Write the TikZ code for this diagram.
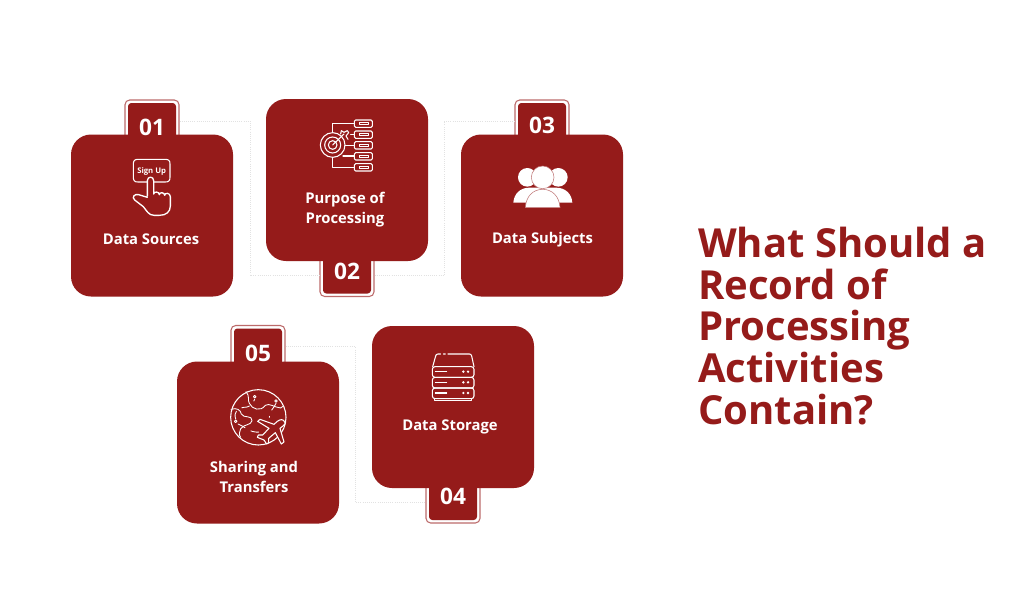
\documentclass[tikz,border=0pt]{standalone}
\usepackage{fontspec}
\setmainfont{Open Sans}
\definecolor{brick}{HTML}{951B1A}
\definecolor{tabline}{HTML}{BC6A6A}
\definecolor{linklight}{HTML}{E2E2E2}
\tikzset{
  iconzoom/.style 2 args={shift={(#1,#2)},x=.25pt,y=-.25pt},
  cardbox/.style={fill=brick,draw=none,rounded corners=15pt,minimum width=121.5pt,minimum height=121.5pt,inner sep=0pt},
  tabouter/.style={draw=tabline,line width=.8pt,fill=white,rounded corners=3.5pt,minimum width=40.5pt,minimum height=31.5pt,inner sep=0pt},
  tabinner/.style={fill=brick,draw=none,rounded corners=2.5pt,minimum width=36pt,minimum height=27pt,inner sep=0pt},
  numtext/.style={text=white,font=\fontsize{17}{18}\selectfont\bfseries,inner sep=0pt},
  cardtext/.style={text=white,font=\fontsize{11.1}{15.4}\selectfont\bfseries,align=center,inner sep=0pt},
  titletext/.style={text=brick,font=\fontsize{30}{31.2}\selectfont\bfseries,align=left,anchor=north west,inner sep=0pt},
  link/.style={draw=linklight,line width=.6pt,densely dotted},
  ico/.style={draw=white,line width=.8pt,line join=round,line cap=round},
}
\begin{document}
\begin{tikzpicture}[x=.75pt,y=-.75pt]
\useasboundingbox[fill=white] (0,0) rectangle (1024,614);

% tabs
\node[tabouter] (tab1) at (152,121) {};
\node[tabouter] (tab2) at (347,275.5) {};
\node[tabouter] (tab3) at (542,121) {};
\node[tabouter] (tab4) at (453,502) {};
\node[tabouter] (tab5) at (258,346.5) {};
\node[tabinner] at (152,121) {};
\node[tabinner] at (347,275.5) {};
\node[tabinner] at (542,121) {};
\node[tabinner] at (453,502) {};
\node[tabinner] at (258,346.5) {};

% connectors
\coordinate (b12) at (250,200);
\coordinate (b23) at (444,200);
\coordinate (b54) at (355,420);
\draw[link] (tab1.east) -| (b12) |- (tab2.west);
\draw[link] (tab2.east) -| (b23) |- (tab3.west);
\draw[link] (tab5.east) -| (b54) |- (tab4.west);

% cards
\node[cardbox] (card1) at (152,215.5) {};
\node[cardbox] (card2) at (347,180) {};
\node[cardbox] (card3) at (542,215.5) {};
\node[cardbox] (card4) at (453,407) {};
\node[cardbox] (card5) at (258,442.5) {};

% numbers
\node[numtext] (n1) at (152,127) {01};
\node[numtext] (n2) at (347,271) {02};
\node[numtext] (n3) at (542,125.5) {03};
\node[numtext] (n4) at (453,496) {04};
\node[numtext] (n5) at (258,353) {05};

% labels
\node[cardtext] (l1) at (151,239) {Data Sources};
\node[cardtext] (l2) at (345,209.5) {Purpose of\\Processing};
\node[cardtext] (l3) at (542.5,239.5) {Data Subjects};
\node[cardtext] (l4) at (450,426.5) {Data Storage};
\node[cardtext] (l5) at (254,477) {Sharing and\\Transfers};

% title
\node[titletext] (title) at (698,227) {What Should a\\Record of\\Processing\\Activities\\Contain?};

% icon 1: sign up
\begin{scope}[iconzoom={60}{90}]
  \draw[ico] (262,276) -- (234,276) .. controls (224,276) and (220,272) .. (220,262) -- (220,222) .. controls (220,212) and (224,208) .. (234,208) -- (316,208) .. controls (326,208) and (330,212) .. (330,222) -- (330,262) .. controls (330,272) and (326,276) .. (316,276) -- (282,276);
  \node[text=white,font=\fontsize{5.8}{7}\selectfont\bfseries,inner sep=0pt] (signup) at (275,243) {Sign Up};
  \draw[ico,line width=1pt] (262,318) -- (262,272) .. controls (262,258) and (281,258) .. (281,272) -- (281,312)
    (281,312) .. controls (281,304) and (298,304) .. (298,314)
    (298,314) .. controls (298,306) and (314,306) .. (314,316)
    (314,316) .. controls (314,307) and (331,308) .. (331,320) -- (331,348) .. controls (331,366) and (318,376) .. (298,376) -- (282,376) .. controls (266,376) and (260,362) .. (250,350) -- (224,330) .. controls (214,322) and (224,310) .. (236,314) -- (262,322);
\end{scope}

% icon 2: target
\begin{scope}[iconzoom={260}{90}]
  \draw[ico] (218,128) -- (218,100) -- (283,100) (218,202) -- (218,232) -- (283,232)
    (272,133) -- (283,133) (255,166) -- (283,166) (249,198) -- (283,198);
  \foreach \yy in {90,123,155,188,221}{
    \draw[ico,rounded corners=1pt] (283,\yy) rectangle (337,\yy+22);
    \draw[ico,line width=.6pt] (298,\yy+8) rectangle (325,\yy+14);
  }
  \draw[ico] (218,165) circle[radius=37];
  \draw[ico] (218,165) circle[radius=24];
  \draw[ico] (218,165) circle[radius=13];
  \draw[ico] (218,165) -- (252,132);
  \draw[ico] (242,132) -- (244,122) -- (252,127) -- (262,122) -- (266,128) -- (258,138) -- (264,148);
\end{scope}

% icon 3: people
\begin{scope}[iconzoom={450}{90}]
  \fill[white] (232,262) circle[radius=28];
  \fill[white] (325,262) circle[radius=28];
  \fill[white] (190,338) .. controls (192,310) and (212,293) .. (238,293) -- (318,293) .. controls (345,293) and (365,310) .. (367,338) -- cycle;
  \fill[white,draw=brick!60!white,line width=.4pt] (278,262) circle[radius=34];
  \fill[white,draw=brick!60!white,line width=.4pt] (226,353) .. controls (228,318) and (250,298) .. (278,298) .. controls (306,298) and (328,318) .. (330,353) -- cycle;
\end{scope}

% icon 4: server
\begin{scope}[iconzoom={350}{320}]
  \draw[ico] (248,140) -- (257,108) .. controls (258,104) and (260,102) .. (264,102) -- (272,102);
  \draw[ico] (280,102) -- (286,102) (294,102) -- (358,102) .. controls (362,102) and (364,104) .. (365,108) -- (372,140);
  \foreach \yy in {140,172,204}{
    \draw[ico,rounded corners=2pt] (247,\yy) rectangle (372,\yy+32);
    \draw[ico] (256,\yy+15) -- (290,\yy+15);
    \fill[white] (340,\yy+15) circle[radius=4] (354,\yy+15) circle[radius=4];
  }
  \draw[ico] (254,236) -- (254,242) -- (364,242) -- (364,236);
\end{scope}

% icon 5: globe and plane
\begin{scope}[iconzoom={170}{320}]
  \draw[ico] (265,292) circle[radius=83];
  \draw[ico,line width=.65pt] (228,215) .. controls (240,228) and (232,240) .. (238,250) .. controls (246,268) and (272,276) .. (286,256) .. controls (298,248) and (312,262) .. (332,264) -- (340,258);
  \draw[ico,line width=.65pt] (183,268) .. controls (200,262) and (212,270) .. (214,282) .. controls (220,296) and (248,284) .. (246,302) .. controls (244,316) and (222,312) .. (212,326) .. controls (208,334) and (206,345) .. (212,352);
  \draw[ico,line width=.65pt,dash pattern=on 6pt off 5pt] (197,297) .. controls (190,275) and (205,262) .. (222,262) .. controls (235,262) and (245,258) .. (254,238);
  \draw[ico,line width=.65pt,dash pattern=on 6pt off 5pt] (318,250) .. controls (310,268) and (298,272) .. (298,292);
  \draw[ico,line width=.65pt,dash pattern=on 6pt off 5pt] (204,312) .. controls (225,318) and (235,340) .. (272,336);
  \draw[ico,line width=.65pt] (197,304) circle[radius=4] (254,230) circle[radius=4] (318,243) circle[radius=4];
  \path[fill=brick,draw=white,line width=.8pt,line join=round] (345,308)
    .. controls (340,295) and (330,298) .. (322,304) -- (312,313) -- (270,298) -- (263,304) -- (297,325) -- (278,345) -- (265,345) -- (262,352) -- (282,360) -- (290,372) -- (296,368) -- (296,355) -- (316,338) -- (334,372) -- (342,366) -- (330,325) -- (340,317) .. controls (344,314) and (346,311) .. (345,308) -- cycle;
\end{scope}
\end{tikzpicture}
\end{document}
